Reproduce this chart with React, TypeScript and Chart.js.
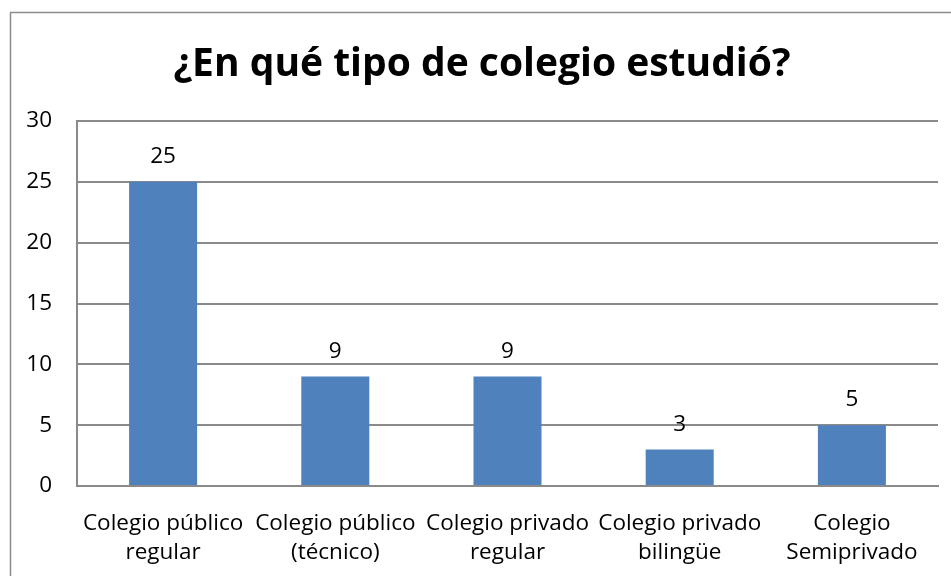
import React, { useEffect, useRef } from "react";
import { Chart, registerables } from "chart.js";

Chart.register(...registerables);

const TITLE = "¿En qué tipo de colegio estudió?";
const CATEGORIES: string[][] = [
  ["Colegio público", "regular"],
  ["Colegio público", "(técnico)"],
  ["Colegio privado", "regular"],
  ["Colegio privado", "bilingüe"],
  ["Colegio", "Semiprivado"],
];
const VALUES: number[] = [25, 9, 9, 3, 5];
const Y_MIN = 0;
const Y_MAX = 30;
const Y_STEP = 5;

const FONT = "'Open Sans', 'Noto Sans', sans-serif";
const BAR_COLOR = "#4F81BD";
const GRID_COLOR = "#8A8A8A";
const TEXT_SIZE = 22.5;

const framePlugin = {
  id: "frame",
  beforeDraw(chart: any) {
    const ctx = chart.ctx;
    ctx.save();
    ctx.fillStyle = "#ffffff";
    ctx.fillRect(0, 0, chart.width, chart.height);
    ctx.strokeStyle = "#8C8C8C";
    ctx.lineWidth = 1.5;
    ctx.strokeRect(10.5, 12.5, chart.width + 20, chart.height + 20);
    ctx.restore();
  },
  afterDraw(chart: any) {
    const ctx = chart.ctx;
    ctx.save();
    ctx.fillStyle = "#000000";
    ctx.font = "bold 39px " + FONT;
    ctx.textAlign = "center";
    ctx.textBaseline = "alphabetic";
    ctx.fillText(TITLE, 482, 76);
    ctx.restore();
  },
};

const valueLabelPlugin = {
  id: "valueLabels",
  afterDatasetsDraw(chart: any) {
    const ctx = chart.ctx;
    const meta = chart.getDatasetMeta(0);
    const data = chart.data.datasets[0].data;
    ctx.save();
    ctx.fillStyle = "#000000";
    ctx.font = TEXT_SIZE + "px " + FONT;
    ctx.textAlign = "center";
    ctx.textBaseline = "alphabetic";
    meta.data.forEach((bar: any, i: number) => {
      ctx.fillText(String(data[i]), bar.x, bar.y - 19);
    });
    ctx.restore();
  },
};

export default function App() {
  const ref = useRef<HTMLCanvasElement | null>(null);
  useEffect(() => {
    if (!ref.current) return;
    const chart = new Chart(ref.current, {
      type: "bar",
      data: {
        labels: CATEGORIES,
        datasets: [
          {
            data: VALUES,
            backgroundColor: BAR_COLOR,
            borderWidth: 0,
            categoryPercentage: 1,
            barPercentage: 0.395,
          },
        ],
      },
      options: {
        responsive: false,
        animation: false,
        devicePixelRatio: 1,
        layout: { padding: { top: 121, left: 0, right: 13, bottom: 0 } },
        plugins: {
          legend: { display: false },
          title: { display: false },
          tooltip: { enabled: false },
        },
        scales: {
          x: {
            grid: { display: false, drawTicks: false },
            border: { display: true, color: GRID_COLOR, width: 2 },
            ticks: {
              color: "#000000",
              font: { family: FONT, size: TEXT_SIZE, lineHeight: 1.29 },
              padding: 23,
              maxRotation: 0,
              autoSkip: false,
            },
            afterFit(scale: any) {
              scale.height = 90;
            },
          },
          y: {
            min: Y_MIN,
            max: Y_MAX,
            ticks: {
              stepSize: Y_STEP,
              color: "#000000",
              font: { family: FONT, size: TEXT_SIZE },
              padding: 25,
            },
            grid: { color: GRID_COLOR, lineWidth: 2, drawTicks: false },
            border: { display: true, color: GRID_COLOR, width: 2 },
            afterFit(scale: any) {
              scale.width = 77;
            },
          },
        },
      },
      plugins: [framePlugin, valueLabelPlugin],
    });
    return () => chart.destroy();
  }, []);
  return (
    <div style={{ position: "fixed", left: 0, top: 0, width: 951, height: 576, overflow: "hidden" }}>
      <canvas ref={ref} width={951} height={576} style={{ display: "block", width: 951, height: 576 }} />
    </div>
  );
}
